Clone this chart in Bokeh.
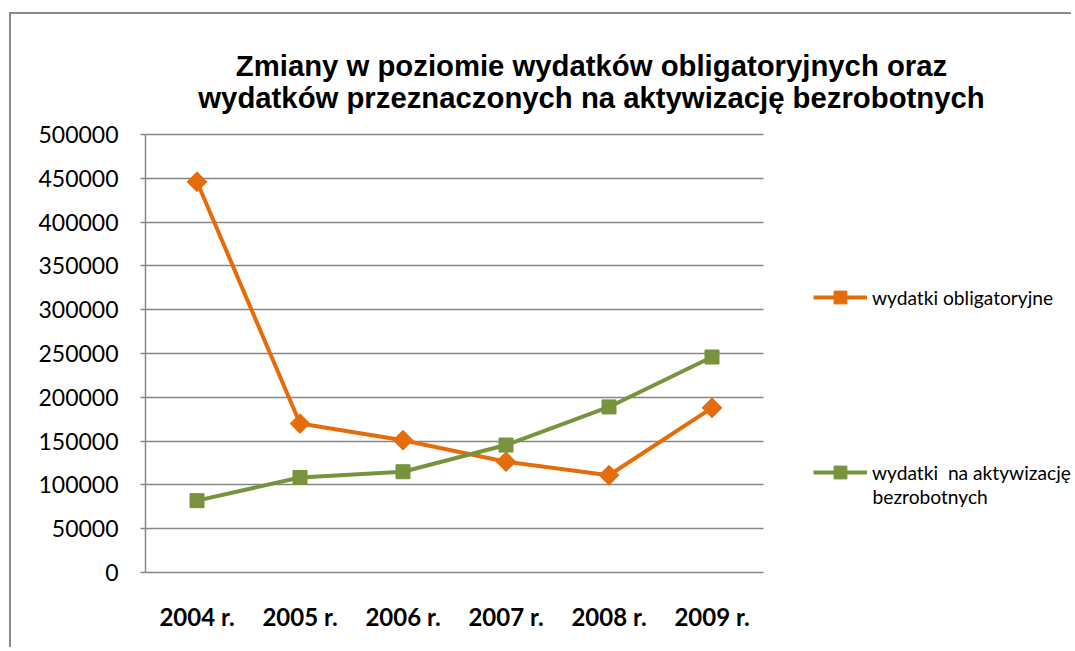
import math
from bokeh.plotting import figure
from bokeh.models import (Range1d, FixedTicker, NumeralTickFormatter, Label,
                          Legend, LegendItem)
from bokeh.embed import file_html
from bokeh.resources import INLINE

# ---- data ----
years = ["2004 r.", "2005 r.", "2006 r.", "2007 r.", "2008 r.", "2009 r."]
obligatoryjne = [446000, 170000, 151000, 126500, 111000, 188000]
aktywizacja = [82000, 108500, 115000, 145500, 189000, 246000]
y_ticks = [0, 50000, 100000, 150000, 200000, 250000, 300000, 350000, 400000, 450000, 500000]
y_max = 500000
title_lines = ["Zmiany w poziomie wydatków obligatoryjnych oraz",
               "wydatków przeznaczonych na aktywizację bezrobotnych"]
series_names = ["wydatki obligatoryjne", "wydatki  na aktywizację bezrobotnych"]

ORANGE = "#E46C0A"
GREEN = "#77933C"
GREY = "#868686"

# ---- layout (pixels) ----
W, H = 1062, 635
LEFT, BOTTOM = 134, 77          # frame offsets inside the canvas
PLOT_W, PLOT_H = 618, 438       # size of the data area (axes / grid)
FRAME_W, FRAME_H = W - LEFT, H - BOTTOM

n = len(years)
xs = list(range(n))
px_per_x = PLOT_W / n
px_per_y = PLOT_H / y_max
x0 = -0.5
x_end = x0 + FRAME_W / px_per_x
y_end = FRAME_H / px_per_y


def xd(px):   # pixel offset from frame left -> data x
    return x0 + px / px_per_x


def yd(px):   # pixel offset from frame bottom -> data y
    return px / px_per_y


p = figure(width=W, height=H, output_backend="svg", toolbar_location=None,
           x_range=Range1d(x0, x_end), y_range=Range1d(0, y_end),
           min_border_left=LEFT, min_border_right=0, min_border_top=0,
           min_border_bottom=BOTTOM)
p.styles = {"border-left": "2px solid #8a8a8a", "border-top": "2px solid #8a8a8a",
            "margin-top": "12px", "margin-left": "9px"}
p.outline_line_color = None
p.background_fill_color = "white"
p.border_fill_color = "white"

# axes
p.yaxis.ticker = FixedTicker(ticks=y_ticks)
p.yaxis.bounds = (0, y_max)
p.yaxis.formatter = NumeralTickFormatter(format="0")
p.yaxis.axis_line_color = GREY
p.yaxis.axis_line_width = 1.5
p.yaxis.major_tick_line_color = GREY
p.yaxis.major_tick_line_width = 1.5
p.yaxis.major_tick_out = 5
p.yaxis.major_tick_in = 0
p.yaxis.minor_tick_line_color = None
p.yaxis.major_label_standoff = 22
p.yaxis.major_label_text_font = "Lato"
p.yaxis.major_label_text_font_size = "23px"
p.yaxis.major_label_text_color = "#000000"

p.xaxis.ticker = FixedTicker(ticks=xs)
p.xaxis.bounds = (x0, x0 + n)
p.xaxis.major_label_overrides = {i: y for i, y in enumerate(years)}
p.xaxis.axis_line_color = GREY
p.xaxis.axis_line_width = 1.5
p.xaxis.major_tick_line_color = None
p.xaxis.minor_tick_line_color = None
p.xaxis.major_label_standoff = 23
p.xaxis.major_label_text_font = "Lato"
p.xaxis.major_label_text_font_style = "bold"
p.xaxis.major_label_text_font_size = "24px"
p.xaxis.major_label_text_color = "#000000"

p.xgrid.grid_line_color = None
p.ygrid.ticker = FixedTicker(ticks=y_ticks)
p.ygrid.cross_bounds = (x0, x0 + n)
p.ygrid.grid_line_color = GREY
p.ygrid.grid_line_width = 1.5

# series
l1 = p.line(xs, obligatoryjne, line_color=ORANGE, line_width=4)
m1 = p.scatter(xs, obligatoryjne, marker="square", angle=math.pi / 4, size=14,
               fill_color=ORANGE, line_color=ORANGE, line_width=1)
l2 = p.line(xs, aktywizacja, line_color=GREEN, line_width=4)
m2 = p.scatter(xs, aktywizacja, marker="square", size=14, fill_color=GREEN,
               line_color=GREEN, line_width=1)

# title
for line, base_px in zip(title_lines, [572 - 65, 572 - 97]):
    p.add_layout(Label(x=xd(591 - 145), y=yd(base_px), text=line,
                       text_align="center", text_baseline="alphabetic",
                       text_font="Liberation Sans", text_font_style="bold",
                       text_font_size="29.3px", text_color="#000000"))

# legends (second name wraps onto two lines)
wrap = series_names[1].rsplit(" ", 1)
LEG_FONT = "19.2px"
leg_kw = dict(glyph_width=54, glyph_height=32, label_height=20, label_standoff=5,
              padding=0, margin=0, border_line_color=None,
              background_fill_alpha=0, label_text_font="Lato",
              label_text_font_size=LEG_FONT, label_text_color="#000000")
p.add_layout(Legend(items=[LegendItem(label=series_names[0], renderers=[l1, m1])],
                    location=(668, 572 - 297 - 16), **leg_kw))
p.add_layout(Legend(items=[LegendItem(label=wrap[0], renderers=[l2, m2])],
                    location=(668, 572 - 472 - 16), **leg_kw))
p.add_layout(Label(x=xd(872 - 145), y=yd(572 - 496), text=wrap[1],
                   text_align="left", text_baseline="alphabetic",
                   text_font="Lato", text_font_size=LEG_FONT, text_color="#000000"))

open("out.html", "w").write(file_html(p, INLINE))
